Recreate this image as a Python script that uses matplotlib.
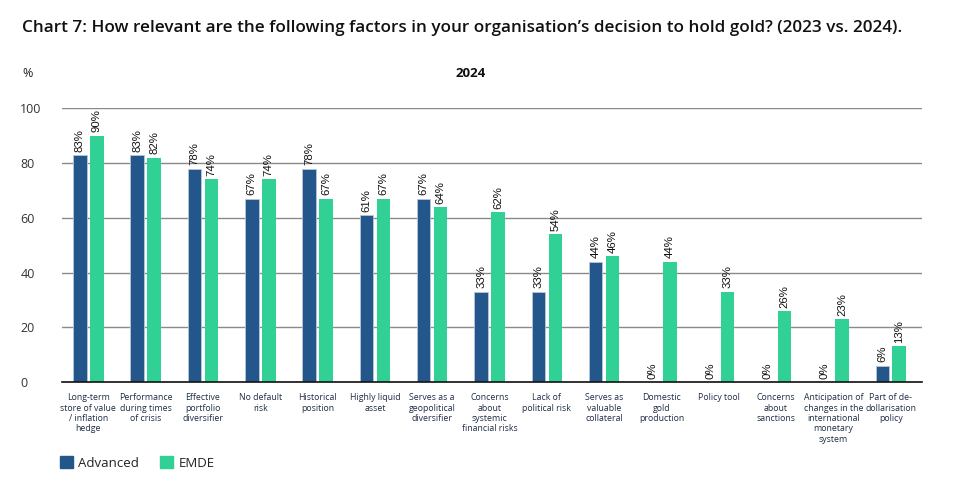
import matplotlib
matplotlib.use("Agg")
import matplotlib.pyplot as plt
import numpy as np

# data
categories = [
    "Long-term\nstore of value\n/ inflation\nhedge",
    "Performance\nduring times\nof crisis",
    "Effective\nportfolio\ndiversifier",
    "No default\nrisk",
    "Historical\nposition",
    "Highly liquid\nasset",
    "Serves as a\ngeopolitical\ndiversifier",
    "Concerns\nabout\nsystemic\nfinancial risks",
    "Lack of\npolitical risk",
    "Serves as\nvaluable\ncollateral",
    "Domestic\ngold\nproduction",
    "Policy tool",
    "Concerns\nabout\nsanctions",
    "Anticipation of\nchanges in the\ninternational\nmonetary\nsystem",
    "Part of de-\ndollarisation\npolicy",
]
advanced = [83, 83, 78, 67, 78, 61, 67, 33, 33, 44, 0, 0, 0, 0, 6]
emde = [90, 82, 74, 74, 67, 67, 64, 62, 54, 46, 44, 33, 26, 23, 13]

c_adv = "#23568A"
c_emde = "#31D196"

plt.rcParams['font.family'] = ['Open Sans', 'DejaVu Sans']

fig = plt.figure(figsize=(9.78, 4.97), dpi=100)
ax = fig.add_axes([0.0634, 0.2314, 0.879, 0.5506])

x = np.arange(len(categories))
w = 0.235
off = 0.148
ax.bar(x - off, advanced, w, color=c_adv, edgecolor="#b8c6d6", linewidth=0.6, zorder=3)
ax.bar(x + off, emde, w, color=c_emde, zorder=3)

for xi, v in zip(x, advanced):
    ax.text(xi - off, v + 1.2, f"{v}%", rotation=90, ha="center", va="bottom",
            fontsize=8.2, family="Liberation Sans", color="#111111", clip_on=False)
for xi, v in zip(x, emde):
    ax.text(xi + off, v + 1.2, f"{v}%", rotation=90, ha="center", va="bottom",
            fontsize=8.2, family="Liberation Sans", color="#111111", clip_on=False)

ax.set_xlim(-0.46, 14.54)
ax.set_ylim(0, 100)
ax.set_yticks([0, 20, 40, 60, 80, 100])
ax.yaxis.grid(True, color="#8a8a8a", linewidth=1.0, zorder=0)
ax.set_axisbelow(True)
for s in ["top", "right", "left"]:
    ax.spines[s].set_visible(False)
ax.spines["bottom"].set_color("#111111")
ax.spines["bottom"].set_linewidth(1.2)
ax.spines["bottom"].set_zorder(4)
ax.tick_params(axis="y", length=0, labelsize=9, labelcolor="#333333", pad=13)
for lbl in ax.get_yticklabels():
    lbl.set_horizontalalignment("left")
ax.yaxis.set_tick_params(pad=30)
ax.tick_params(axis="x", length=0, pad=8)
ax.set_xticks(x)
ax.set_xticklabels(categories, fontsize=6.3, color="#1f2d45", linespacing=1.2, va="top")

fig.text(0.0225, 0.943, "Chart 7: How relevant are the following factors in your organisation\u2019s decision to hold gold? (2023 vs. 2024).",
         fontsize=12.3, fontweight="semibold", color="#111111", ha="left", va="center")
fig.text(0.0225, 0.853, "%", fontsize=9, color="#222222", ha="left", va="center")
fig.text(0.481, 0.853, "2024", fontsize=9.5, fontweight="bold", color="#111111", ha="center", va="center")

handles = [plt.Rectangle((0, 0), 1, 1, color=c_adv), plt.Rectangle((0, 0), 1, 1, color=c_emde)]
fig.legend(handles, ["Advanced", "EMDE"], loc="center left", bbox_to_anchor=(0.049, 0.068),
           ncol=2, frameon=False, fontsize=9.5, handlelength=1.0, handleheight=1.0,
           handletextpad=0.4, columnspacing=1.6, labelcolor="#222222")

fig.savefig("out.png", dpi=100)
